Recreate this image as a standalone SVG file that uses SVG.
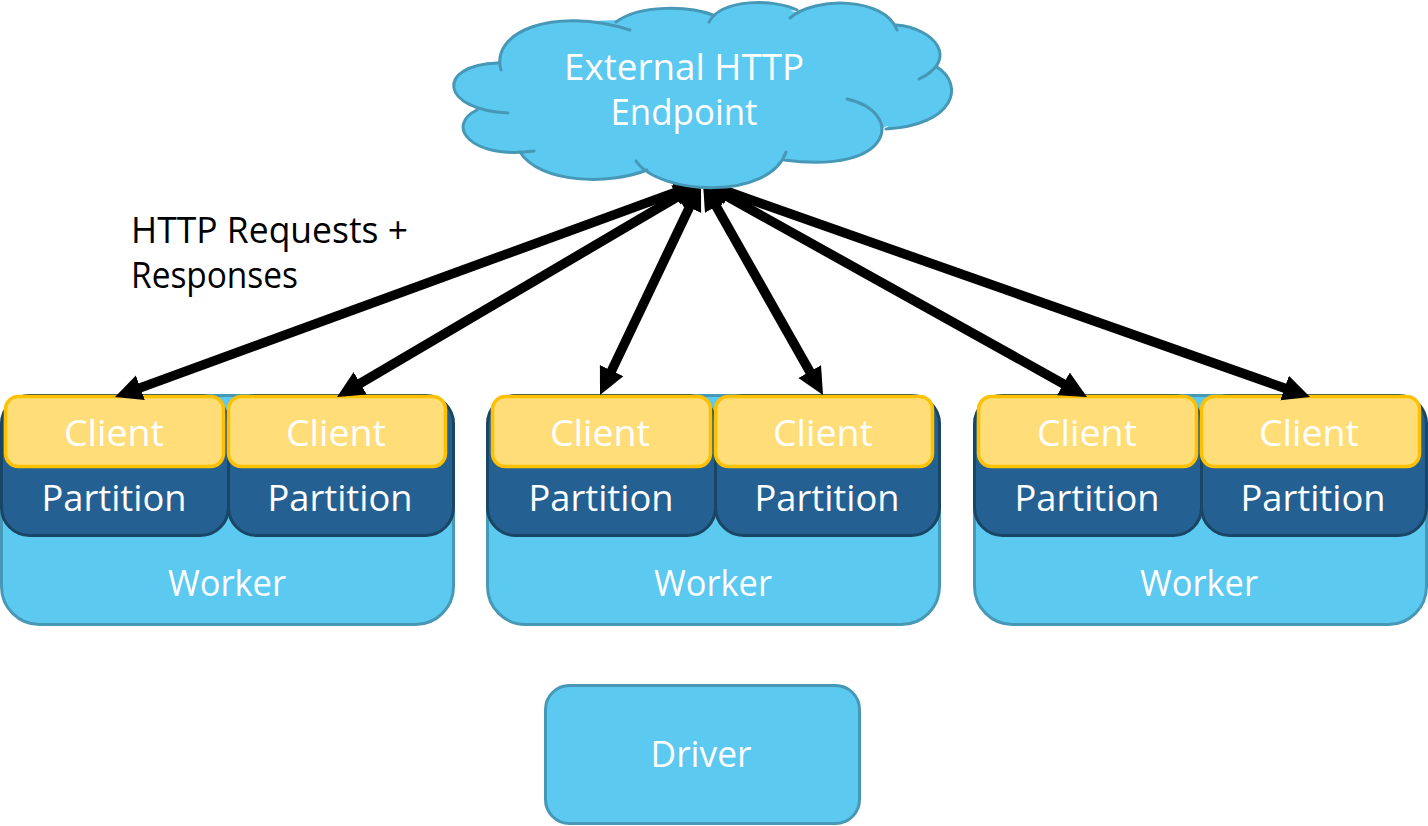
<svg xmlns="http://www.w3.org/2000/svg" width="1428" height="826" viewBox="0 0 1428 826">
<style>
text{font-family:"Open Sans","Noto Sans","Liberation Sans",sans-serif;font-size:36px;fill:#fff;text-anchor:middle}
.dark{fill:#000;text-anchor:start}
.w{fill:#5cc9f0;stroke:#4698b6;stroke-width:3}
.p{fill:#246192;stroke:#1a4666;stroke-width:3}
.c{fill:#ffdd78;stroke:#ffc000;stroke-width:3.500}
.a{fill:none;stroke:#000;stroke-width:9.500;marker-start:url(#h);marker-end:url(#h)}
.cs{fill:none;stroke:#4698b6;stroke-width:3;stroke-linecap:round}
</style>
<defs>
<marker id="h" markerUnits="userSpaceOnUse" markerWidth="30" markerHeight="30" refX="1" refY="14" orient="auto-start-reverse" viewBox="0 0 30 28"><path d="M0 1L27 14L0 27Z" fill="#000"/></marker>
</defs>
<g id="worker1">
<rect class="w" x="1.500" y="395.500" width="452" height="229" rx="38"/>
<rect class="p" x="1.500" y="395.500" width="227" height="140" rx="28"/>
<rect class="p" x="228.500" y="395.500" width="225" height="140" rx="28"/>
<rect class="c" x="5.500" y="396.500" width="218" height="70" rx="13"/>
<rect class="c" x="228.500" y="396.500" width="217" height="70" rx="13"/>
<text x="114" y="446" textLength="100" lengthAdjust="spacingAndGlyphs">Client</text><text x="336" y="446" textLength="100" lengthAdjust="spacingAndGlyphs">Client</text>
<text x="114" y="511" textLength="145" lengthAdjust="spacingAndGlyphs">Partition</text><text x="340" y="511" textLength="145" lengthAdjust="spacingAndGlyphs">Partition</text>
<text x="227" y="596" textLength="118" lengthAdjust="spacingAndGlyphs">Worker</text>
</g>
<g id="worker2">
<rect class="w" x="487.500" y="395.500" width="452" height="229" rx="38"/>
<rect class="p" x="487.500" y="395.500" width="228" height="140" rx="28"/>
<rect class="p" x="715.500" y="395.500" width="224" height="140" rx="28"/>
<rect class="c" x="492.500" y="396.500" width="218" height="70" rx="13"/>
<rect class="c" x="715.500" y="396.500" width="217" height="70" rx="13"/>
<text x="600" y="446" textLength="100" lengthAdjust="spacingAndGlyphs">Client</text><text x="823" y="446" textLength="100" lengthAdjust="spacingAndGlyphs">Client</text>
<text x="601" y="511" textLength="145" lengthAdjust="spacingAndGlyphs">Partition</text><text x="827" y="511" textLength="145" lengthAdjust="spacingAndGlyphs">Partition</text>
<text x="713" y="596" textLength="118" lengthAdjust="spacingAndGlyphs">Worker</text>
</g>
<g id="worker3">
<rect class="w" x="974.500" y="395.500" width="452" height="229" rx="38"/>
<rect class="p" x="974.500" y="395.500" width="227" height="140" rx="28"/>
<rect class="p" x="1201.500" y="395.500" width="225" height="140" rx="28"/>
<rect class="c" x="978.500" y="396.500" width="218" height="70" rx="13"/>
<rect class="c" x="1201.500" y="396.500" width="218" height="70" rx="13"/>
<text x="1087" y="446" textLength="100" lengthAdjust="spacingAndGlyphs">Client</text><text x="1309" y="446" textLength="100" lengthAdjust="spacingAndGlyphs">Client</text>
<text x="1087" y="511" textLength="145" lengthAdjust="spacingAndGlyphs">Partition</text><text x="1313" y="511" textLength="145" lengthAdjust="spacingAndGlyphs">Partition</text>
<text x="1199" y="596" textLength="118" lengthAdjust="spacingAndGlyphs">Worker</text>
</g>
<g id="driver">
<rect class="w" x="545.500" y="685.500" width="314" height="138" rx="24"/>
<text x="701" y="767" textLength="101" lengthAdjust="spacingAndGlyphs">Driver</text>
</g>
<g id="connectors">
<path class="a" d="M139.400 388.100L676.600 191.900"/>
<path class="a" d="M359.400 383.800L678.600 196.200"/>
<path class="a" d="M611.200 371.500L689.800 206.500"/>
<path class="a" d="M810.200 372.400L715.800 205.600"/>
<path class="a" d="M1064.300 384.300L725.700 195.700"/>
<path class="a" d="M1285.500 388.400L727.500 191.600"/>
</g>
<g id="cloud">
<path fill="#5cc9f0" d="M501 70C490 32 553 6 630 30Z M616 22C640 4 690 6 713 15Z M709 22C722 -2 775 -1 797 10Z M790 18C815 -4 885 -3 897 30Z M896 25C935 28 960 60 919 79Z M937 67C965 85 955 125 886 129Z M847 99C905 112 895 175 784 160Z M786 152C770 200 660 196 636 161Z M647 170C610 185 540 184 520 152Z M534 151C470 160 445 125 477 110Z M508 113C440 110 435 65 498 63Z M498 63L560 22L620 20L650 12L690 12L712 15L725 10L775 8L796 12L840 8L885 20L905 35L925 60L922 76L932 72L940 90L925 115L885 127L840 150L786 158L760 170L660 170L600 173L530 160L515 150L477 110L490 100Z"/>
<path class="cs" d="M501 70C490 32 553 6 630 30"/>
<path class="cs" d="M616 22C640 4 690 6 713 15"/>
<path class="cs" d="M709 22C722 -2 775 -1 797 10"/>
<path class="cs" d="M790 18C815 -4 885 -3 897 30"/>
<path class="cs" d="M896 25C935 28 960 60 919 79"/>
<path class="cs" d="M937 67C965 85 955 125 886 129"/>
<path class="cs" d="M847 99C905 112 895 175 784 160"/>
<path class="cs" d="M786 152C770 200 660 196 636 161"/>
<path class="cs" d="M647 170C610 185 540 184 520 152"/>
<path class="cs" d="M534 151C470 160 445 125 477 110"/>
<path class="cs" d="M508 113C440 110 435 65 498 63"/>
<text x="684" y="80" textLength="240" lengthAdjust="spacingAndGlyphs">External HTTP</text>
<text x="684" y="125" textLength="147" lengthAdjust="spacingAndGlyphs">Endpoint</text>
</g>
<g id="label">
<text class="dark" x="131" y="243" textLength="277" lengthAdjust="spacingAndGlyphs">HTTP Requests +</text>
<text class="dark" x="131" y="288" textLength="167" lengthAdjust="spacingAndGlyphs">Responses</text>
</g>
</svg>
